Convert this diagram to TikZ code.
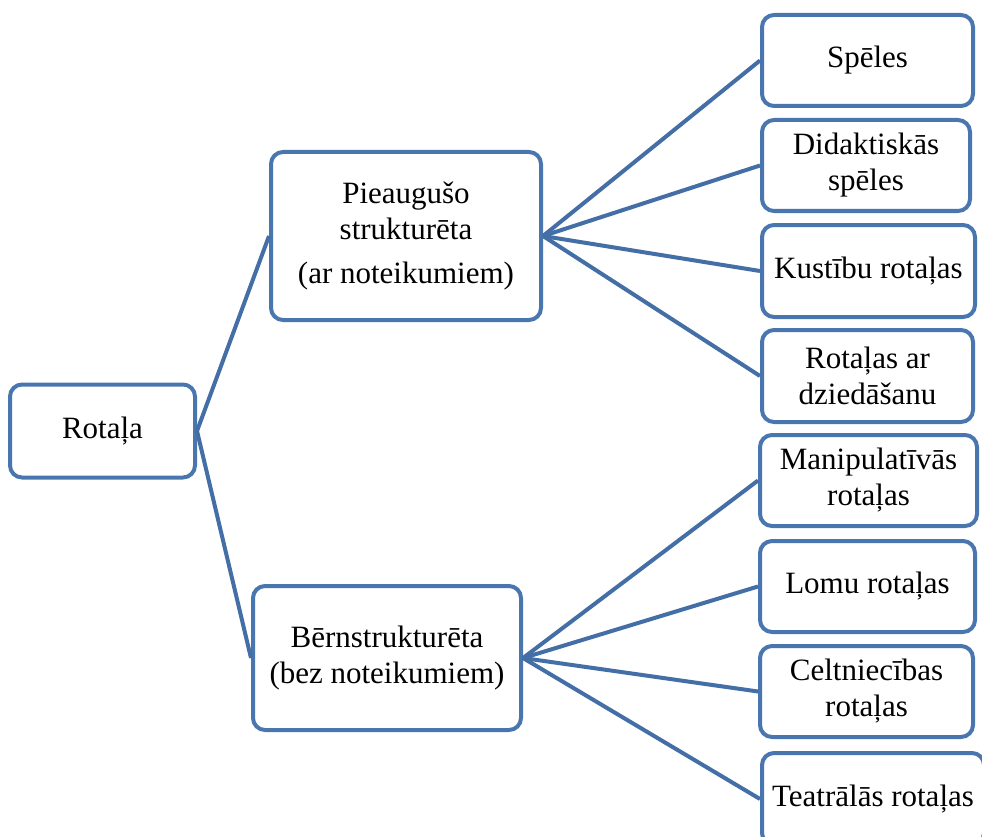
\documentclass[tikz,border=0pt]{standalone}
\usepackage{fontspec}
\setmainfont{Liberation Serif}
\definecolor{boxblue}{RGB}{74,118,176}
\definecolor{lineblue}{RGB}{68,110,166}
\begin{document}
\begin{tikzpicture}[x=1pt,y=-1pt,
  box/.style={draw=boxblue,line width=4pt,rounded corners=12pt,fill=white,
    align=center,inner sep=0pt,font=\fontsize{31}{36}\selectfont},
  conn/.style={draw=lineblue,line width=4pt}]
\useasboundingbox (0,0) rectangle (982,837);
\begin{scope}
\clip (0,0) rectangle (982,837);
\node[box,minimum width=185,minimum height=93] (rot) at (102.5,431) {Rotaļa};
\node[box,minimum width=270,minimum height=168] (pie) at (406,236) {Pieaugušo\\strukturēta\\[8pt](ar noteikumiem)};
\node[box,minimum width=268,minimum height=144] (ber) at (387,658) {Bērnstrukturēta\\(bez noteikumiem)};
\node[box,minimum width=211,minimum height=91] (spe) at (867.5,60.5) {Spēles};
\node[box,minimum width=208,minimum height=91] (did) at (866,165.5) {Didaktiskās\\spēles};
\node[box,minimum width=213,minimum height=92] (kus) at (868.5,271) {Kustību rotaļas};
\node[box,minimum width=211,minimum height=92] (dzi) at (867.5,376) {Rotaļas ar\\dziedāšanu};
\node[box,minimum width=217,minimum height=91] (man) at (868.5,480.5) {Manipulatīvās\\rotaļas};
\node[box,minimum width=215,minimum height=91] (lom) at (867.5,586.5) {Lomu rotaļas};
\node[box,minimum width=213,minimum height=91] (cel) at (866.5,691.5) {Celtniecības\\rotaļas};
\node[box,minimum width=222,minimum height=92] (tea) at (873,799) {Teatrālās rotaļas};
\end{scope}
\draw[conn] (rot.east) -- (pie.west);
\draw[conn] (rot.east) -- (ber.west);
\foreach \t in {spe,did,kus,dzi}{\draw[conn] (pie.east) -- (\t.west);}
\foreach \t in {man,lom,cel,tea}{\draw[conn] (ber.east) -- (\t.west);}
\end{tikzpicture}
\end{document}
